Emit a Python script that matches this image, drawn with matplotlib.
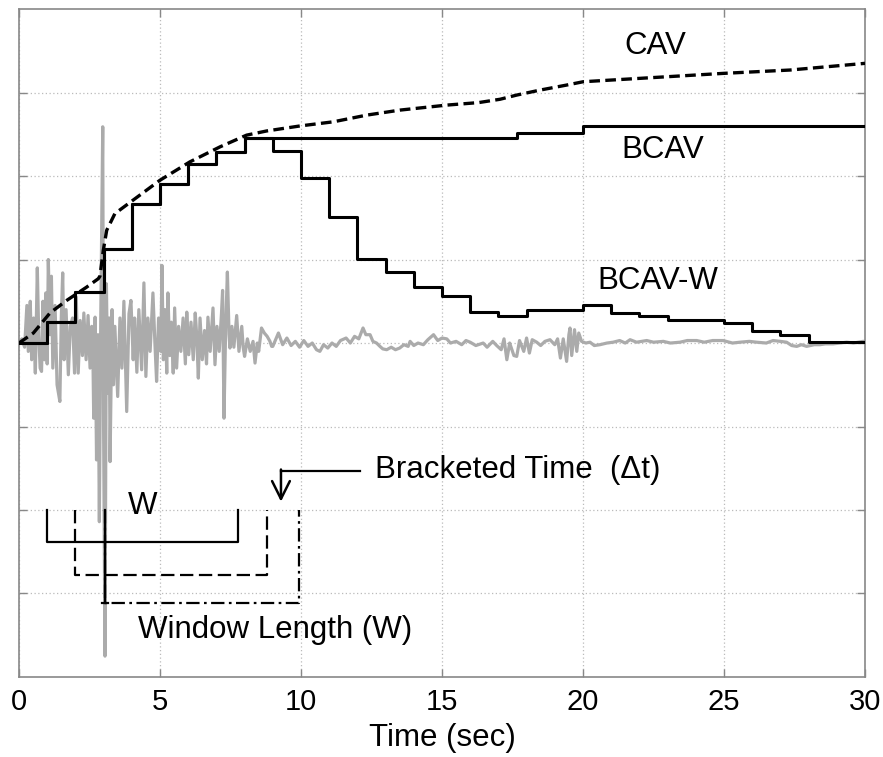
"""
CAV / BCAV / BCAV-W illustration over an acceleration record.
Renders out.png (883 x 757).
"""

import matplotlib
matplotlib.use("Agg")
import matplotlib.pyplot as plt

plt.rcParams["font.family"] = ["Liberation Sans", "DejaVu Sans"]

# ---- data -----------------------------------------------------------------
# cumulative absolute velocity (dashed)
cav_t = [0, 0.51, 1.1, 1.69, 2.4, 2.81, 2.87, 2.99, 3.11, 3.4, 4.04, 5.0,
         6.06, 7.13, 8.07, 8.78, 9.96, 11.15, 12.33, 13.51, 15.17, 16.3,
         17.06, 17.65, 18.48, 19.42, 20.01, 22.0, 24.98, 27.34, 30.0]
cav_v = [0, 0.12, 0.36, 0.51, 0.67, 0.77, 0.80, 1.11, 1.35, 1.55, 1.71, 1.95,
         2.17, 2.35, 2.49, 2.54, 2.60, 2.65, 2.73, 2.79, 2.85, 2.88,
         2.92, 2.97, 3.03, 3.09, 3.13, 3.17, 3.23, 3.27, 3.35]

# bracketed CAV (steps)
bcav_t = [0, 1, 2, 3, 4, 5, 6, 7, 8, 17.66, 20, 30]
bcav_v = [0, 0.25, 0.61, 1.13, 1.67, 1.90, 2.14, 2.29, 2.46, 2.51, 2.60, 2.60]

# windowed bracketed CAV (steps)
bcavw_t = [0, 1, 2, 3, 4, 5, 6, 7, 8, 9, 10, 11, 12, 13, 14, 15, 16, 17, 18,
           20, 21, 22, 23, 25, 26, 27, 28, 30]
bcavw_v = [0, 0.25, 0.61, 1.13, 1.67, 1.90, 2.14, 2.29, 2.46, 2.30, 1.98,
           1.51, 1.01, 0.85, 0.67, 0.56, 0.37, 0.32, 0.40, 0.45, 0.36, 0.32,
           0.275, 0.235, 0.147, 0.10, 0.016, 0.016]

# acceleration trace (grey)
acc_t = [0.00, 0.10, 0.20, 0.28, 0.33, 0.40, 0.45, 0.52, 0.58, 0.65, 0.70,
         0.75, 0.80, 0.85, 0.90, 0.95, 1.00, 1.04, 1.10, 1.15, 1.20, 1.28,
         1.35, 1.45, 1.50, 1.55, 1.60, 1.67, 1.75, 1.82, 1.90, 1.97, 2.03,
         2.10, 2.17, 2.25, 2.30, 2.38, 2.45, 2.52, 2.58, 2.62, 2.65, 2.70,
         2.75, 2.80, 2.85, 2.90, 2.97, 3.00, 3.05, 3.10, 3.15, 3.20, 3.23,
         3.30, 3.35, 3.40, 3.50, 3.58, 3.65, 3.72, 3.82, 3.90, 3.97, 4.05,
         4.10, 4.18, 4.25, 4.35, 4.43, 4.50, 4.57, 4.65, 4.75, 4.82, 4.88,
         4.95, 5.03, 5.07, 5.12, 5.18, 5.24, 5.28, 5.35, 5.40, 5.47, 5.52,
         5.59, 5.66, 5.74, 5.82, 5.90, 5.95, 6.02, 6.10, 6.18, 6.25, 6.30,
         6.36, 6.42, 6.50, 6.58, 6.65, 6.70, 6.78, 6.88, 6.95, 7.02, 7.10,
         7.18, 7.22, 7.27, 7.33, 7.39, 7.45, 7.48, 7.55, 7.62, 7.72, 7.80,
         7.90, 7.95, 8.00, 8.10, 8.20, 8.30, 8.37, 8.45, 8.50, 8.60, 8.70,
         8.80, 8.90, 8.96, 9.00, 9.20, 9.35, 9.50, 9.65, 9.80, 9.95, 10.10,
         10.25, 10.40, 10.55, 10.67, 10.80, 10.95, 11.10, 11.25, 11.40,
         11.60, 11.75, 11.90, 12.05, 12.20, 12.30, 12.45, 12.55, 12.68,
         12.80, 12.90, 13.04, 13.20, 13.35, 13.50, 13.65, 13.80, 13.87,
         14.00, 14.15, 14.34, 14.50, 14.70, 14.85, 15.00, 15.17, 15.30,
         15.50, 15.70, 15.85, 16.00, 16.20, 16.46, 16.60, 16.80, 16.94,
         17.10, 17.20, 17.30, 17.40, 17.55, 17.65, 17.75, 17.90, 18.00,
         18.10, 18.20, 18.36, 18.50, 18.65, 18.83, 19.00, 19.10, 19.20,
         19.30, 19.42, 19.50, 19.54, 19.60, 19.70, 19.78, 19.85, 19.95,
         20.10, 20.25, 20.40, 20.60, 20.85, 21.07, 21.30, 21.50, 21.67,
         21.90, 22.26, 22.50, 22.85, 23.10, 23.44, 23.70, 24.03, 24.30,
         24.60, 24.97, 25.30, 25.57, 25.90, 26.16, 26.50, 26.74, 27.00,
         27.22, 27.40, 27.58, 27.75, 27.93, 28.20, 28.40, 28.60, 28.87,
         29.10, 29.35, 29.60, 29.93, 30.00]
acc_v = [0.00, 0.05, -0.05, 0.45, -0.10, 0.50, -0.20, 0.30, -0.36, 0.90, 0.10,
         -0.30, -0.34, 0.50, -0.20, 0.60, -0.25, 1.00, 0.10, 0.80, -0.30, 0.45,
         -0.50, -0.70, 0.30, 0.84, -0.20, 0.40, -0.38, 0.20, 0.30, -0.36, 0.55,
         -0.36, 0.27, -0.15, 0.36, -0.20, 0.33, -0.30, 0.20, -0.10, -0.90, 0.31,
         -1.40, 0.10, -2.14, 0.30, 2.59, -1.00, -3.75, 0.71, -0.60, 0.30, -1.42,
         0.40, -0.50, 0.20, -0.64, 0.30, -0.30, 0.50, -0.82, 0.35, 0.51, -0.20,
         0.30, -0.35, 0.40, -0.32, 0.72, -0.40, 0.30, -0.10, 0.60, 0.00, -0.46,
         0.30, -0.10, 0.93, -0.20, 0.40, -0.36, 0.60, -0.15, 0.25, -0.36, 0.42,
         -0.30, 0.20, -0.10, 0.30, -0.25, 0.37, -0.14, 0.25, -0.20, 0.36, 0.10,
         -0.42, 0.30, -0.20, 0.15, -0.25, 0.31, -0.10, 0.42, -0.26, 0.20, -0.10,
         0.35, 0.63, -0.90, 0.20, 0.85, 0.10, -0.06, 0.20, -0.05, 0.33, -0.10,
         0.20, -0.05, -0.16, 0.05, -0.10, 0.02, -0.24, 0.00, -0.10, 0.18, 0.12,
         0.08, 0.02, -0.04, -0.04, 0.12, -0.02, 0.06, -0.03, 0.02, -0.05, 0.03,
         -0.04, 0.00, -0.08, -0.10, -0.02, -0.06, 0.00, -0.04, 0.03,
         0.06, 0.00, 0.08, 0.05, 0.18, 0.10, 0.10, 0.02, 0.00,
         -0.04, -0.07, -0.08, -0.05, -0.08, -0.06, -0.02, -0.04, 0.02,
         -0.03, 0.00, -0.02, 0.04, 0.10, 0.03, 0.06, 0.05, 0.00,
         0.02, -0.02, 0.03, 0.01, -0.03, 0.00, -0.05, 0.02, -0.03,
         -0.08, 0.05, -0.20, 0.00, -0.15, -0.16, 0.03, -0.10, 0.06,
         -0.12, 0.04, 0.01, -0.03, 0.02, 0.04, -0.02, 0.05, -0.18,
         0.05, -0.22, 0.10, 0.18, -0.15, 0.16, -0.10, 0.12, 0.02,
         0.00, 0.01, -0.03, -0.02, 0.00, 0.01, 0.03, 0.00, 0.04,
         0.01, 0.03, 0.01, 0.02, 0.00, 0.01, 0.03, 0.03, 0.01,
         0.03, 0.03, 0.00, 0.01, 0.02, 0.01, 0.00, 0.03, 0.02,
         0.01, -0.03, -0.04, -0.02, -0.04, -0.02, -0.02, -0.01, -0.01,
         0.00, 0.01, 0.00, 0.02, 0.02]

# window-length brackets: start, end, bottom level (top at -2)
win_start = [1.0, 2.0, 3.05]
win_end = [7.78, 8.78, 9.94]
win_bottom = [-2.38, -2.78, -3.11]
win_top = -2.0
win_style = ["-", (0, (6, 2.5)), (0, (6, 2, 1.2, 2))]

xticks = [0, 5, 10, 15, 20, 25, 30]

# ---- figure ---------------------------------------------------------------
fig = plt.figure(figsize=(8.83, 7.57), dpi=100)
ax = fig.add_axes([0.0215, 0.1057, 0.9581, 0.8823])

ax.plot(acc_t, acc_v, color="#ababab", lw=2.3, zorder=2)
ax.plot(cav_t, cav_v, color="black", lw=2.4, ls=(0, (3.2, 1.6)), zorder=3)
ax.plot(bcav_t, bcav_v, color="black", lw=2.2, drawstyle="steps-post", zorder=3)
ax.plot(bcavw_t, bcavw_v, color="black", lw=2.2, drawstyle="steps-post", zorder=3)

for s, e, b, st in zip(win_start, win_end, win_bottom, win_style):
    ax.plot([s, s, e, e], [win_top, b, b, win_top], color="black",
            lw=1.6, ls=st, zorder=4)
# left edge of the last window drawn solid through the others
ax.plot([win_start[2], win_start[2]], [win_top, win_bottom[2]],
        color="black", lw=1.6, zorder=4)
ax.plot([win_start[2] - 0.12, win_start[2] + 0.12],
        [win_bottom[2], win_bottom[2]], color="black", lw=1.6, zorder=4)

# bracketed-time pointer
ax.plot([12.09, 9.29], [-1.53, -1.53], color="black", lw=1.6, zorder=4)
ax.annotate("", xy=(9.29, -1.90), xytext=(9.29, -1.515),
            arrowprops=dict(arrowstyle="->", color="black", lw=1.8,
                            mutation_scale=32, shrinkA=0, shrinkB=0),
            zorder=4)

fs = 22.5
ax.text(22.55, 3.56, "CAV", fontsize=fs, ha="center", va="center")
ax.text(22.84, 2.31, "BCAV", fontsize=fs, ha="center", va="center")
ax.text(22.66, 0.74, "BCAV-W", fontsize=fs, ha="center", va="center")
ax.text(12.62, -1.52, "Bracketed Time  (\u0394t)", fontsize=fs,
        ha="left", va="center")
ax.text(4.4, -1.95, "W", fontsize=fs, ha="center", va="center")
ax.text(4.22, -3.44, "Window Length (W)", fontsize=fs, ha="left", va="center")

ax.set_xlim(0, 30)
ax.set_ylim(-4, 4)
ax.set_xticks(xticks)
ax.set_yticks([-3, -2, -1, 0, 1, 2, 3])
ax.set_yticklabels([])
ax.tick_params(direction="in", length=6, color="#888888", width=1,
               top=True, right=True, labelsize=21, pad=8)
ax.set_xlabel("Time (sec)", fontsize=22.5, labelpad=5)
ax.grid(True, ls=(0, (1, 2)), color="#bbbbbb", lw=0.9)
for sp in ax.spines.values():
    sp.set_color("#888888")
    sp.set_linewidth(1.2)

fig.savefig("out.png", dpi=100)
